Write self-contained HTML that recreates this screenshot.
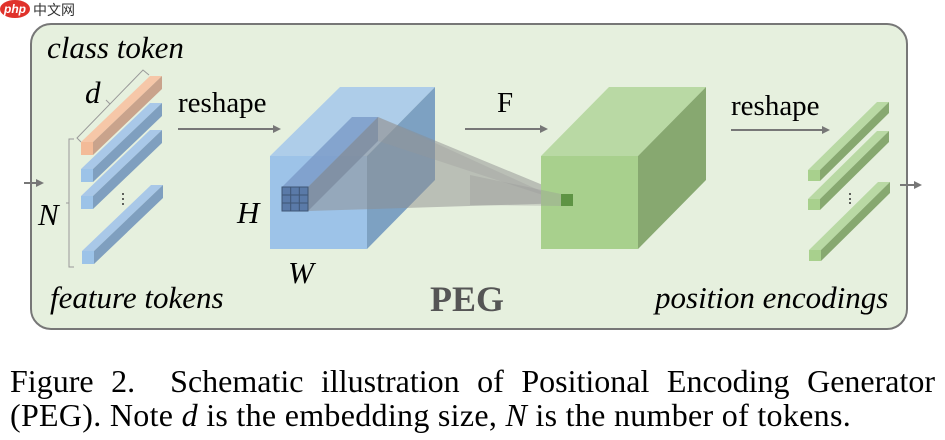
<!DOCTYPE html>
<html><head><meta charset="utf-8"><style>
html,body{margin:0;padding:0;background:#fff;width:945px;height:440px;overflow:hidden;position:relative}
svg{display:block}
text{font-family:"Liberation Serif",serif}
.cap{position:absolute;left:10px;width:925px;font-family:"Liberation Serif",serif;font-size:32px;line-height:34px;white-space:nowrap;color:#000}
.j{text-align:justify;text-align-last:justify}
</style></head><body>
<svg width="945" height="440" viewBox="0 0 945 440" xmlns="http://www.w3.org/2000/svg">
<defs>
<marker id="ah" markerWidth="8" markerHeight="8" refX="6" refY="4" orient="auto" markerUnits="userSpaceOnUse"><path d="M0,0 L8,4 L0,8 Z" fill="#777"/></marker>
</defs>
<ellipse cx="15" cy="9" rx="15" ry="9" fill="#e0322b"/>
<text x="15" y="13" font-size="12" fill="#fff" text-anchor="middle" font-style="italic" font-weight="bold" style="font-family:'Liberation Sans',sans-serif">php</text>
<text x="33" y="15" font-size="14" fill="#333" style="font-family:'Liberation Sans','Noto Sans CJK SC',sans-serif">中文网</text>

<rect x="31" y="24" width="876" height="305" rx="20" fill="#e6f0de" stroke="#777" stroke-width="2"/>

<line x1="24" y1="183" x2="42" y2="183" stroke="#777" stroke-width="2" marker-end="url(#ah)"/>
<polyline points="74,139 69,139 69,267 74,267" fill="none" stroke="#999" stroke-width="1"/>
<line x1="69" y1="203" x2="66" y2="203" stroke="#999"/>
<polyline points="81,142 77,138 143,70 149,75" fill="none" stroke="#999" stroke-width="1"/>
<line x1="110" y1="104" x2="106" y2="100" stroke="#999"/>

<g>
<polygon points="81,142 93,142 162,76 150,76" fill="#f6c7a8"/>
<polygon points="93,142 162,76 162,89 93,155" fill="#c9a38c"/>
<rect x="81" y="142" width="12" height="13" fill="#f3bb98"/>
</g>
<g fill="#a9c8e8">
<polygon points="81,169 93,169 162,103 150,103"/>
<polygon points="93,169 162,103 162,116 93,182" fill="#7f9fbf"/>
<rect x="81" y="169" width="12" height="13" fill="#9cc3e8"/>
<polygon points="81,196 93,196 162,130 150,130"/>
<polygon points="93,196 162,130 162,143 93,209" fill="#7f9fbf"/>
<rect x="81" y="196" width="12" height="13" fill="#9cc3e8"/>
<polygon points="82,251 94,251 163,185 151,185"/>
<polygon points="94,251 163,185 163,198 94,264" fill="#7f9fbf"/>
<rect x="82" y="251" width="12" height="13" fill="#9cc3e8"/>
</g>
<g fill="#333"><circle cx="123" cy="194" r="1"/><circle cx="123" cy="199" r="1"/><circle cx="123" cy="204" r="1"/></g>

<text x="47" y="58" font-size="31" font-style="italic">class token</text>
<text x="85" y="103" font-size="31" font-style="italic">d</text>
<text x="178" y="112" font-size="29">reshape</text>
<line x1="178" y1="129" x2="279" y2="129" stroke="#777" stroke-width="2" marker-end="url(#ah)"/>
<text x="38" y="225" font-size="31" font-style="italic">N</text>
<text x="50" y="308" font-size="31" font-style="italic">feature tokens</text>
<text x="237" y="223" font-size="31" font-style="italic">H</text>
<text x="288" y="283" font-size="31" font-style="italic">W</text>

<polygon points="270,156 367,156 435,87 340,87" fill="#aecde9"/>
<polygon points="367,156 435,87 435,180 367,249" fill="#7da1c2"/>
<rect x="270" y="156" width="97" height="93" fill="#9dc3e8"/>
<polygon points="282,187 352,117 378,117 308,187" fill="#7c9cc9" opacity="0.85"/>
<polygon points="308,187 378,117 378,141 308,211" fill="#6f8db5" opacity="0.85"/>
<polygon points="308,187 378,117 567,195 567,203 308,211" fill="#8e8e8e" opacity="0.5"/>
<polygon points="378,117 378,141 567,203" fill="#999" opacity="0.3"/>
<rect x="282" y="187" width="26" height="24" fill="#5a7aa8" stroke="#3f5675" stroke-width="1"/>
<g stroke="#3f5675" stroke-width="1"><line x1="290.7" y1="187" x2="290.7" y2="211"/><line x1="299.3" y1="187" x2="299.3" y2="211"/><line x1="282" y1="195" x2="308" y2="195"/><line x1="282" y1="203" x2="308" y2="203"/></g>

<text x="497" y="112" font-size="29">F</text>
<line x1="465" y1="129" x2="546" y2="129" stroke="#777" stroke-width="2" marker-end="url(#ah)"/>

<polygon points="541,156 638,156 706,87 609,87" fill="#b9d9a4"/>
<polygon points="638,156 706,87 706,180 638,249" fill="#87a870"/>
<rect x="541" y="156" width="97" height="93" fill="#a8d08d"/>
<polygon points="470,175 561,194 561,206 470,205" fill="#999" opacity="0.35"/>
<rect x="561" y="194" width="12" height="12" fill="#5e9444"/>

<text x="731" y="115" font-size="29">reshape</text>
<line x1="731" y1="130" x2="828" y2="130" stroke="#777" stroke-width="2" marker-end="url(#ah)"/>

<g fill="#b9d9a4">
<polygon points="808,170 820,170 889,102 877,102"/>
<polygon points="820,170 889,102 889,113 820,181" fill="#87a870"/>
<rect x="808" y="170" width="12" height="11" fill="#a8d08d"/>
<polygon points="808,199 820,199 889,131 877,131"/>
<polygon points="820,199 889,131 889,142 820,210" fill="#87a870"/>
<rect x="808" y="199" width="12" height="11" fill="#a8d08d"/>
<polygon points="809,250 821,250 890,182 878,182"/>
<polygon points="821,250 890,182 890,193 821,261" fill="#87a870"/>
<rect x="809" y="250" width="12" height="11" fill="#a8d08d"/>
</g>
<g fill="#333"><circle cx="850" cy="194" r="1"/><circle cx="850" cy="199" r="1"/><circle cx="850" cy="203" r="1"/></g>
<line x1="900" y1="185" x2="920" y2="185" stroke="#777" stroke-width="2" marker-end="url(#ah)"/>

<text x="430" y="311" font-size="36" font-weight="bold" fill="#555">PEG</text>
<text x="655" y="308" font-size="31" font-style="italic">position encodings</text>
</svg>
<div class="cap j" style="top:364px">Figure 2. &nbsp;Schematic illustration of Positional Encoding Generator</div>
<div class="cap" style="top:398px;letter-spacing:0.3px">(PEG). Note <i>d</i> is the embedding size, <i>N</i> is the number of tokens.</div>
</body></html>
